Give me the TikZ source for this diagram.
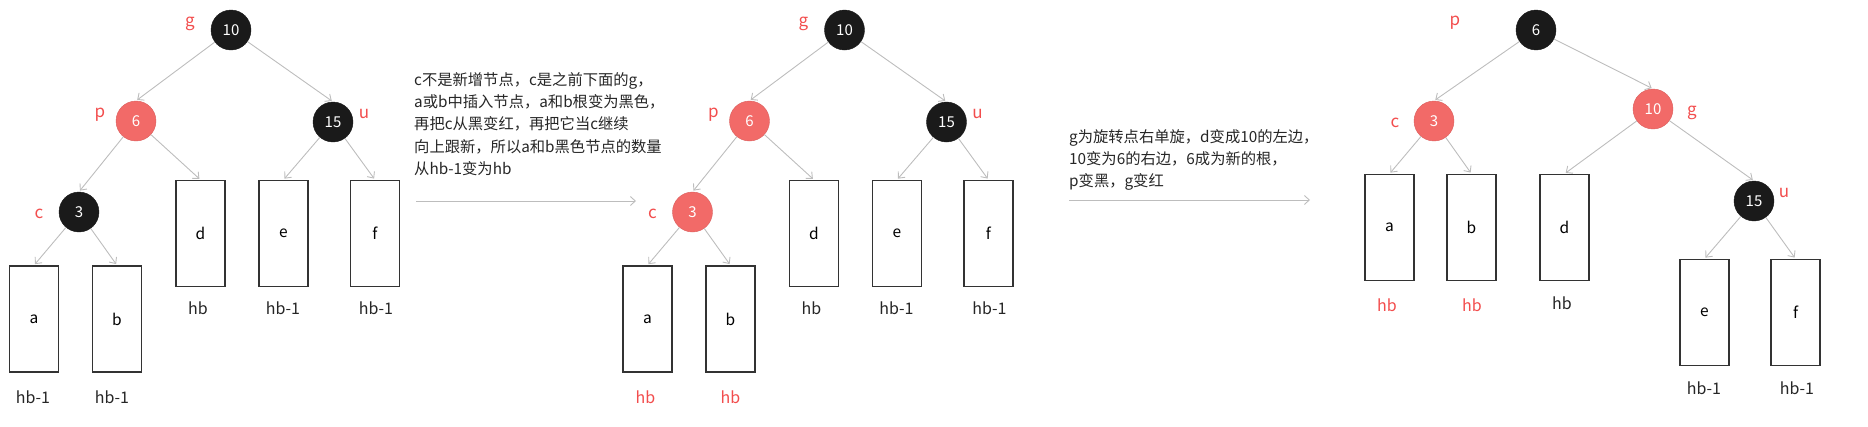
\documentclass[tikz,border=0pt]{standalone}
\usepackage{fontspec}
\setmainfont{Noto Sans CJK SC}
\usetikzlibrary{arrows.meta}
\definecolor{nodered}{HTML}{F26A68}
\definecolor{labred}{HTML}{F24D4D}
\definecolor{nodeblk}{HTML}{1A1A1A}
\definecolor{edgegray}{HTML}{BDBDBD}
\definecolor{boxline}{HTML}{333333}
\tikzset{
  blknode/.style={circle,fill=nodeblk,draw=nodeblk,minimum size=40pt,inner sep=0pt,text=white,font=\fontsize{15}{15}\selectfont},
  rednode/.style={circle,fill=nodered,draw=nodered!90!black,line width=0.4pt,minimum size=40pt,inner sep=0pt,text=white,font=\fontsize{15}{15}\selectfont},
  subtree/.style={rectangle,draw=boxline,line width=1.4pt,minimum width=49pt,minimum height=106pt,inner sep=0pt,font=\fontsize{15.5}{15.5}\selectfont},
  redlab/.style={text=labred,font=\fontsize{17}{17}\selectfont,inner sep=0pt},
  hblab/.style={text=black!85,font=\fontsize{16}{16}\selectfont,inner sep=0pt},
  hbred/.style={text=labred,font=\fontsize{16}{16}\selectfont,inner sep=0pt},
  edge/.style={draw=edgegray,line width=0.9pt,-{Straight Barb[length=5pt,width=9pt]},shorten >=1.5pt},
  desc/.style={align=left,anchor=north west,inner sep=0pt,text=black!85,font=\fontsize{15.3}{22.3}\selectfont},
}
\begin{document}
\begin{tikzpicture}[x=1pt,y=-1pt]
\useasboundingbox (0,0) rectangle (1868,426);
% ---------- panel 1 ----------
\node[blknode] (g1) at (231,30) {10};
\node[rednode] (p1) at (136,121) {6};
\node[blknode] (u1) at (333,122) {15};
\node[blknode] (c1) at (79,212) {3};
\node[subtree] (a1) at (34,319) {a};
\node[subtree] (b1) at (117,319) {b};
\node[subtree] (d1) at (200.5,233.5) {d};
\node[subtree] (e1) at (283.5,233.5) {e};
\node[subtree] (f1) at (375,233.5) {f};
\node[redlab] (gl1) at (190,24) {g};
\node[redlab] (pl1) at (100,115) {p};
\node[redlab] (ul1) at (364,114) {u};
\node[redlab] (cl1) at (39,214) {c};
\node[hblab] (ha1) at (33,397) {hb-1};
\node[hblab] (hb1) at (112,397) {hb-1};
\node[hblab] (hd1) at (198,308) {hb};
\node[hblab] (he1) at (283,308) {hb-1};
\node[hblab] (hf1) at (376,308) {hb-1};
\draw[edge] (g1) -- (p1.north);
\draw[edge] (g1) -- (u1.north);
\draw[edge] (p1) -- (c1.north);
\draw[edge] (p1) -- (d1.north);
\draw[edge] (u1) -- (e1.north);
\draw[edge] (u1) -- (f1.north);
\draw[edge] (c1) -- (a1.north);
\draw[edge] (c1) -- (b1.north);
% ---------- text 1 ----------
\node[desc] (t1) at (414,72) {c不是新增节点，c是之前下面的g，\\a或b中插入节点，a和b根变为黑色，\\再把c从黑变红，再把它当c继续\\向上跟新，所以a和b黑色节点的数量\\从hb-1变为hb};
\coordinate (s1) at (416,201);
\coordinate (e1a) at (636,201);
\draw[edge,shorten >=0pt] (s1) -- (e1a);
% ---------- panel 2 ----------
\begin{scope}[xshift=613.5pt]
\node[blknode] (g2) at (231,30) {10};
\node[rednode] (p2) at (136,121) {6};
\node[blknode] (u2) at (333,122) {15};
\node[rednode] (c2) at (79,212) {3};
\node[subtree] (a2) at (34,319) {a};
\node[subtree] (b2) at (117,319) {b};
\node[subtree] (d2) at (200.5,233.5) {d};
\node[subtree] (e2) at (283.5,233.5) {e};
\node[subtree] (f2) at (375,233.5) {f};
\node[redlab] (gl2) at (190,24) {g};
\node[redlab] (pl2) at (100,115) {p};
\node[redlab] (ul2) at (364,114) {u};
\node[redlab] (cl2) at (39,214) {c};
\node[hbred] (ha2) at (32,397) {hb};
\node[hbred] (hb2) at (117,397) {hb};
\node[hblab] (hd2) at (198,308) {hb};
\node[hblab] (he2) at (283,308) {hb-1};
\node[hblab] (hf2) at (376,308) {hb-1};
\draw[edge] (g2) -- (p2.north);
\draw[edge] (g2) -- (u2.north);
\draw[edge] (p2) -- (c2.north);
\draw[edge] (p2) -- (d2.north);
\draw[edge] (u2) -- (e2.north);
\draw[edge] (u2) -- (f2.north);
\draw[edge] (c2) -- (a2.north);
\draw[edge] (c2) -- (b2.north);
\end{scope}
% ---------- text 2 ----------
\node[desc] (t2) at (1069,129) {g为旋转点右单旋，d变成10的左边，\\10变为6的右边，6成为新的根，\\p变黑，g变红};
\coordinate (s2) at (1069,200);
\coordinate (e2a) at (1310,200);
\draw[edge,shorten >=0pt] (s2) -- (e2a);
% ---------- panel 3 ----------
\node[blknode] (p3) at (1536,30) {6};
\node[rednode] (c3) at (1434,121) {3};
\node[rednode] (g3) at (1653,109) {10};
\node[blknode] (u3) at (1754,201) {15};
\node[subtree] (a3) at (1389.5,227.5) {a};
\node[subtree] (b3) at (1471.5,227.5) {b};
\node[subtree] (d3) at (1564.5,227.5) {d};
\node[subtree] (e3) at (1704.5,312.5) {e};
\node[subtree] (f3) at (1795.5,312.5) {f};
\node[redlab] (pl3) at (1455,23) {p};
\node[redlab] (cl3) at (1395,123) {c};
\node[redlab] (gl3) at (1692,113) {g};
\node[redlab] (ul3) at (1784,193) {u};
\node[hbred] (ha3) at (1387,305) {hb};
\node[hbred] (hb3) at (1472,305) {hb};
\node[hblab] (hd3) at (1562,303) {hb};
\node[hblab] (he3) at (1704,388) {hb-1};
\node[hblab] (hf3) at (1797,388) {hb-1};
\draw[edge] (p3) -- (c3.north);
\draw[edge] (p3) -- (g3.north);
\draw[edge] (c3) -- (a3.north);
\draw[edge] (c3) -- (b3.north);
\draw[edge] (g3) -- (d3.north);
\draw[edge] (g3) -- (u3.north);
\draw[edge] (u3) -- (e3.north);
\draw[edge] (u3) -- (f3.north);
\end{tikzpicture}
\end{document}
